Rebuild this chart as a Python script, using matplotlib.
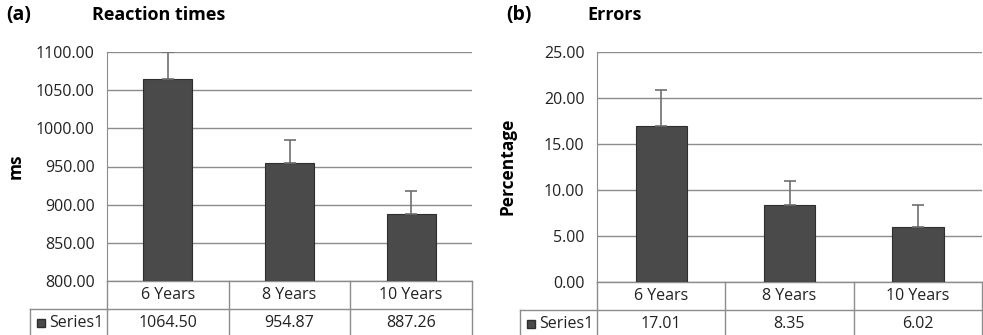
import matplotlib
matplotlib.use("Agg")
import matplotlib.pyplot as plt
from matplotlib.lines import Line2D
import matplotlib.transforms as mtransforms

plt.rcParams["font.family"] = ["Open Sans", "DejaVu Sans"]

categories = ["6 Years", "8 Years", "10 Years"]
series_name = "Series1"

rt_values = [1064.50, 954.87, 887.26]
rt_errors = [36.0, 30.0, 30.0]

err_values = [17.01, 8.35, 6.02]
err_errors = [3.86, 2.65, 2.40]

GRID = "#8c8c8c"
BAR = "#4a4a4a"
TXT = "#222222"
FIG_W, FIG_H = 983, 335


def draw_panel(fig, rect, values, errors, ylim, ystep, ylabel, letter, title,
               letter_x, title_x, ylabel_x, series_left_px):
    ax = fig.add_axes(rect)
    x = list(range(len(categories)))
    ax.bar(x, values, width=0.4, color=BAR, edgecolor="#2e2e2e", linewidth=0.8, zorder=3)
    ax.errorbar(x, values, yerr=[[0] * len(errors), errors], fmt="none",
                ecolor="#6e6e6e", elinewidth=1.2, capsize=4, capthick=1.2, zorder=4)
    ax.set_xlim(-0.5, len(categories) - 0.5)
    ax.set_ylim(*ylim)
    ticks = [ylim[0] + i * ystep for i in range(int(round((ylim[1] - ylim[0]) / ystep)) + 1)]
    ax.set_yticks(ticks)
    ax.set_yticklabels([f"{t:.2f}" for t in ticks], fontsize=11.5, color=TXT)
    ax.set_xticks([])
    ax.grid(axis="y", color=GRID, linewidth=1, zorder=0)
    for s in ["top", "right", "bottom"]:
        ax.spines[s].set_visible(False)
    ax.spines["left"].set_color(GRID)
    ax.tick_params(axis="y", length=0, pad=9)

    # data table under the plot
    trans = mtransforms.blended_transform_factory(ax.transData, ax.transAxes)
    ax_h_px = rect[3] * FIG_H
    ax_w_px = rect[2] * FIG_W
    r1 = -28 / ax_h_px
    r2 = -(rect[1] * FIG_H + 2) / ax_h_px
    px = len(categories) / ax_w_px  # data units per pixel
    left_x = -0.5 - series_left_px * px
    n = len(categories)
    kw = dict(color=GRID, linewidth=1, transform=trans, clip_on=False)
    ax.add_line(Line2D([-0.5, n - 0.5], [0, 0], **kw))
    ax.add_line(Line2D([left_x, n - 0.5], [r1, r1], **kw))
    for b in [i - 0.5 for i in range(n + 1)]:
        ax.add_line(Line2D([b, b], [0, r2], **kw))
    ax.add_line(Line2D([left_x, left_x], [r1, r2], **kw))
    for i, c in enumerate(categories):
        ax.text(i, r1 / 2, c, transform=trans, ha="center", va="center",
                fontsize=11.5, color=TXT, clip_on=False)
        ax.text(i, (r1 + r2) / 2, f"{values[i]:.2f}", transform=trans, ha="center",
                va="center", fontsize=11.5, color=TXT, clip_on=False)
    ax.plot([left_x + 11 * px], [(r1 + r2) / 2], marker="s", markersize=6, color=BAR,
            markeredgecolor="#2e2e2e", transform=trans, clip_on=False)
    ax.text(left_x + 19 * px, (r1 + r2) / 2, series_name, transform=trans, ha="left",
            va="center", fontsize=11.5, color=TXT, clip_on=False)

    fig.text(ylabel_x / FIG_W, 1 - 166 / FIG_H, ylabel, rotation=90, ha="center",
             va="center", fontsize=12.5, fontweight="bold")
    fig.text(letter_x / FIG_W, 1 - 15 / FIG_H, letter, ha="left", va="center",
             fontsize=14, fontweight="bold")
    fig.text(title_x / FIG_W, 1 - 15 / FIG_H, title, ha="left", va="center",
             fontsize=13, fontweight="bold")
    return ax


fig = plt.figure(figsize=(9.83, 3.35), dpi=100)

draw_panel(fig, [107 / FIG_W, 54 / FIG_H, 365 / FIG_W, 229 / FIG_H],
           rt_values, rt_errors, (800, 1100), 50, "ms", "(a)", "Reaction times",
           6, 92, 16, 77)
draw_panel(fig, [597 / FIG_W, 53 / FIG_H, 385 / FIG_W, 230 / FIG_H],
           err_values, err_errors, (0, 25), 5, "Percentage", "(b)", "Errors",
           506, 587, 508, 77)

fig.savefig("out.png", dpi=100)
